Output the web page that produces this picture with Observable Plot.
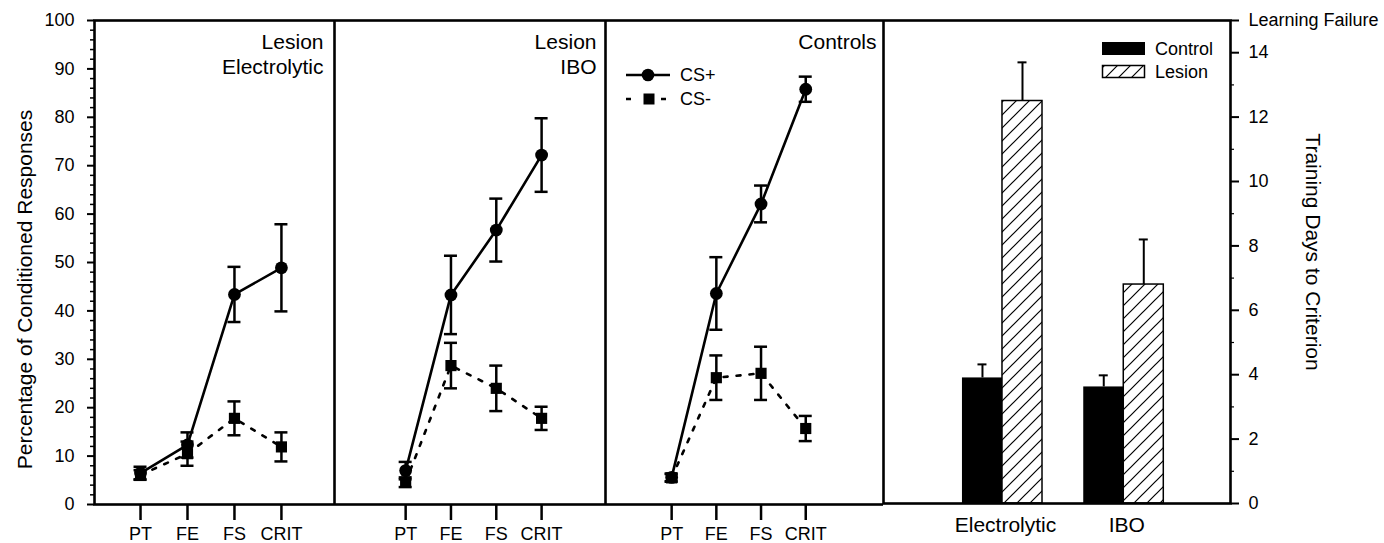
<!DOCTYPE html>
<html><head><meta charset="utf-8">
<script src="https://cdn.jsdelivr.net/npm/d3@7"></script>
<script src="https://cdn.jsdelivr.net/npm/@observablehq/plot@0.6"></script>
<style>
body{margin:0;background:#fff;}
#chart{position:relative;width:1384px;height:543px;display:flex;font-family:"Liberation Sans",Arial,sans-serif;}
#chart > svg{display:block;flex:none;}
#legend{position:absolute;left:0;top:0;pointer-events:none;}
</style></head><body><div id="chart"></div>
<script>
// ---- data ----
const phases = ["PT","FE","FS","CRIT"];
const electroCSplus    = [6.5, 12.3, 43.4, 48.9];
const electroCSplusErr = [1.3, 2.6, 5.7, 9.0];
const electroCSminus   = [6.1, 10.5, 17.8, 11.9];
const electroCSminusErr= [1.0, 2.5, 3.5, 3.0];
const iboCSplus    = [7.0, 43.3, 56.7, 72.2];
const iboCSplusErr = [1.8, 8.1, 6.5, 7.6];
const iboCSminus   = [4.6, 28.7, 24.0, 17.8];
const iboCSminusErr= [1.0, 4.7, 4.7, 2.4];
const ctrlCSplus    = [5.6, 43.6, 62.1, 85.8];
const ctrlCSplusErr = [0.8, 7.5, 3.8, 2.6];
const ctrlCSminus   = [5.5, 26.2, 27.1, 15.7];
const ctrlCSminusErr= [0.8, 4.6, 5.5, 2.6];

const lesionGroups   = ["Electrolytic","IBO"];
const controlDays    = [3.9, 3.62];
const controlDaysErr = [0.42, 0.36];
const lesionDays     = [12.5, 6.8];
const lesionDaysErr  = [1.2, 1.4];

const leftTicks  = [0,10,20,30,40,50,60,70,80,90,100];
const rightTicks = [0,2,4,6,8,10,12,14];
const failureTick = 15;
const failureLabel = "Learning Failure";

// ---- layout ----
const FONT = "Liberation Sans, Arial, sans-serif";
const H = 543, MT = 20, MB = 39;
const chart = document.getElementById("chart");

function linePanel(cfg) {
  const rows = phases.map((p, i) => ({
    i, plus: cfg.plus[i], plusErr: cfg.plusErr[i], minus: cfg.minus[i], minusErr: cfg.minusErr[i]
  }));
  const marks = [
    Plot.frame({stroke: "black", strokeWidth: 2.6}),
    Plot.axisX({ticks: [0,1,2,3], tickFormat: i => phases[i], tickSize: 16, tickPadding: 7,
      fontSize: 18, strokeWidth: 2.5, label: null})
  ];
  if (cfg.yAxis) {
    marks.push(
      Plot.axisY({ticks: leftTicks, tickSize: 7, tickPadding: 13, fontSize: 18, strokeWidth: 2, label: null}),
      Plot.axisY({ticks: d3.range(0, 101, 2).filter(v => v % 10), tickSize: 4, tickFormat: () => "", strokeWidth: 1.5, label: null}),
      Plot.text(["Percentage of Conditioned Responses"], {text: d => d, frameAnchor: "left", textAnchor: "middle",
        dx: -69, dy: 27, rotate: -90, fontSize: 21})
    );
  }
  for (const s of ["plus", "minus"]) {
    marks.push(
      Plot.ruleX(rows, {x: "i", y1: d => d[s] - d[s + "Err"], y2: d => d[s] + d[s + "Err"], strokeWidth: 2.5}),
      Plot.ruleY(rows, {x1: "i", x2: "i", y: d => d[s] + d[s + "Err"], insetLeft: -6.5, insetRight: -6.5, strokeWidth: 2.5}),
      Plot.ruleY(rows, {x1: "i", x2: "i", y: d => d[s] - d[s + "Err"], insetLeft: -6.5, insetRight: -6.5, strokeWidth: 2.5})
    );
  }
  marks.push(
    Plot.line(rows, {x: "i", y: "plus", stroke: "black", strokeWidth: 2.6}),
    Plot.line(rows, {x: "i", y: "minus", stroke: "black", strokeWidth: 2.6, strokeDasharray: "4,9"}),
    Plot.dot(rows, {x: "i", y: "plus", r: 6.4, fill: "black", stroke: "none", symbol: "circle"}),
    Plot.dot(rows, {x: "i", y: "minus", r: 6.3, fill: "black", stroke: "none", symbol: "square"}),
    Plot.text([cfg.title], {text: d => d, frameAnchor: "top-right", dx: -cfg.titlePad, dy: 11,
      textAnchor: "end", lineAnchor: "top", fontSize: 21, lineHeight: 1.19})
  );
  return Plot.plot({
    width: cfg.width, height: H, marginTop: MT, marginBottom: MB,
    marginLeft: cfg.marginLeft, marginRight: 0,
    x: {type: "linear", domain: cfg.xDomain, axis: null},
    y: {domain: [0, 100], axis: null},
    style: {fontFamily: FONT, fontSize: "18px", color: "black", background: "white"},
    marks
  });
}

const panels = [
  {title: "Lesion\nElectrolytic", plus: electroCSplus, plusErr: electroCSplusErr, minus: electroCSminus, minusErr: electroCSminusErr,
   width: 334, marginLeft: 94, xDomain: [-0.98, 4.13], yAxis: true, titlePad: 11},
  {title: "Lesion\nIBO", plus: iboCSplus, plusErr: iboCSplusErr, minus: iboCSminus, minusErr: iboCSminusErr,
   width: 271, marginLeft: 0, xDomain: [-1.57, 4.41], titlePad: 9},
  {title: "Controls", plus: ctrlCSplus, plusErr: ctrlCSplusErr, minus: ctrlCSminus, minusErr: ctrlCSminusErr,
   width: 278, marginLeft: 0, xDomain: [-1.48, 4.74], titlePad: 7}
];
for (const p of panels) chart.appendChild(linePanel(p));

// ---- bar panel ----
const barW = 0.33;
const barRows = lesionGroups.map((g, gi) => ({
  gi, ctrl: controlDays[gi], ctrlErr: controlDaysErr[gi], les: lesionDays[gi], lesErr: lesionDaysErr[gi]
}));
const barPlot = Plot.plot({
  width: 501, height: H, marginTop: MT, marginBottom: 40, marginLeft: 0, marginRight: 154,
  x: {type: "linear", domain: [-0.981, 1.88], axis: null},
  y: {domain: [0, 15], axis: null},
  style: {fontFamily: FONT, fontSize: "18px", color: "black", background: "white"},
  marks: [
    Plot.rect(barRows, {x1: d => d.gi - barW, x2: "gi", y1: 0, y2: "ctrl", fill: "black"}),
    Plot.rect(barRows, {x1: "gi", x2: d => d.gi + barW, y1: 0, y2: "les", fill: "url(#hatch)", stroke: "black", strokeWidth: 1.5}),
    Plot.ruleX(barRows, {x: d => d.gi - barW / 2, y1: "ctrl", y2: d => d.ctrl + d.ctrlErr, strokeWidth: 2}),
    Plot.ruleY(barRows, {x1: d => d.gi - barW / 2, x2: d => d.gi - barW / 2, y: d => d.ctrl + d.ctrlErr, insetLeft: -4.5, insetRight: -4.5, strokeWidth: 2}),
    Plot.ruleX(barRows, {x: d => d.gi + barW / 2, y1: "les", y2: d => d.les + d.lesErr, strokeWidth: 2}),
    Plot.ruleY(barRows, {x1: d => d.gi + barW / 2, x2: d => d.gi + barW / 2, y: d => d.les + d.lesErr, insetLeft: -4.5, insetRight: -4.5, strokeWidth: 2}),
    Plot.frame({stroke: "black", strokeWidth: 2.6}),
    Plot.axisX({ticks: [0, 1], tickFormat: i => lesionGroups[i], tickSize: 0, tickPadding: 14, dx: 3, fontSize: 21, label: null}),
    Plot.axisY({anchor: "right", ticks: [...rightTicks, failureTick], tickFormat: v => v === failureTick ? failureLabel : v,
      tickSize: 8, tickPadding: 10, fontSize: 18, strokeWidth: 2, label: null}),
    Plot.axisY({anchor: "right", ticks: d3.range(1, 15, 1).filter(v => v % 2), tickSize: 3, tickFormat: () => "", strokeWidth: 1.2, label: null}),
    Plot.text(["Training Days to Criterion"], {text: d => d, frameAnchor: "right", textAnchor: "middle",
      dx: 82, dy: -10, rotate: 90, fontSize: 21})
  ]
});
d3.select(barPlot).insert("defs", ":first-child").html(
  `<pattern id="hatch" patternUnits="userSpaceOnUse" width="13" height="13">
     <path d="M-2,2 l4,-4 M0,13 l13,-13 M11,15 l4,-4" stroke="black" stroke-width="1.2"/>
   </pattern>`);
chart.appendChild(barPlot);

// ---- legends (overlay) ----
const lg = d3.select(chart).append("svg").attr("id", "legend").attr("width", 1384).attr("height", H)
  .style("font-family", FONT).style("font-size", "18px");
lg.append("line").attr("x1", 626).attr("x2", 670).attr("y1", 75).attr("y2", 75).attr("stroke", "black").attr("stroke-width", 2.5);
lg.append("circle").attr("cx", 648).attr("cy", 75).attr("r", 6.3).attr("fill", "black");
lg.append("text").attr("x", 680).attr("y", 75).attr("dy", "0.35em").text("CS+");
for (const [a, b] of [[626, 631], [661, 666]])
  lg.append("line").attr("x1", a).attr("x2", b).attr("y1", 99).attr("y2", 99).attr("stroke", "black").attr("stroke-width", 2.5);
lg.append("rect").attr("x", 643.5).attr("y", 93.5).attr("width", 11).attr("height", 11).attr("fill", "black");
lg.append("text").attr("x", 680).attr("y", 99).attr("dy", "0.35em").text("CS-");

lg.append("rect").attr("x", 1102).attr("y", 42).attr("width", 43).attr("height", 13).attr("fill", "black");
lg.append("text").attr("x", 1155).attr("y", 48.5).attr("dy", "0.35em").text("Control");
lg.append("rect").attr("x", 1102.5).attr("y", 65.5).attr("width", 42).attr("height", 12).attr("fill", "url(#hatch)").attr("stroke", "black").attr("stroke-width", 1.5);
lg.append("text").attr("x", 1155).attr("y", 71.5).attr("dy", "0.35em").text("Lesion");
</script></body></html>
